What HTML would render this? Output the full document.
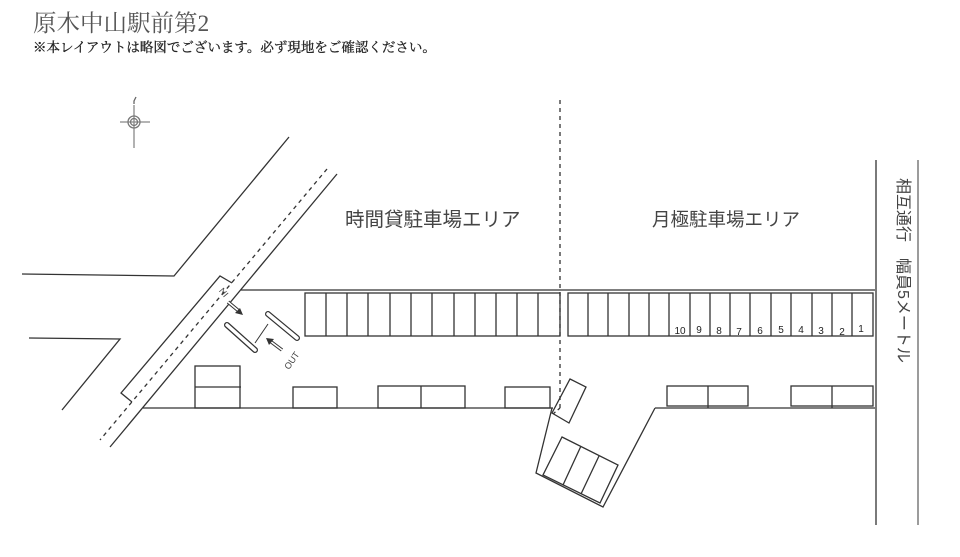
<!DOCTYPE html>
<html><head><meta charset="utf-8"><style>
html,body{margin:0;padding:0;background:#fff;width:960px;height:557px;overflow:hidden}
svg{display:block}
.j{font-family:"Liberation Sans","Noto Sans CJK JP",sans-serif;fill:#444}
.s{font-family:"Liberation Serif","Noto Serif CJK SC",serif;fill:#555}
</style></head><body>
<svg width="960" height="557" viewBox="0 0 960 557" xmlns="http://www.w3.org/2000/svg">
<g stroke="#333" stroke-width="1.3" fill="none">
<line x1="134" y1="105" x2="134" y2="148" stroke="#888"/>
<line x1="120" y1="122" x2="150" y2="122" stroke="#888"/>
<circle cx="134" cy="122" r="6" stroke="#777"/>
<circle cx="134" cy="122" r="3.5" stroke="#777"/>
<path d="M136 97 L134 101 L134 104" stroke="#666"/>
<polyline points="22,274 174,276 289,137"/>
<polyline points="29,338 120,339 62,410"/>
<line x1="337" y1="174" x2="110" y2="447"/>
<line x1="327" y1="169" x2="100" y2="440" stroke-dasharray="4,4"/>
<polyline points="232,283 220,276 121,393 132,402"/>
<line x1="241" y1="290" x2="875" y2="290"/>
<line x1="143" y1="408" x2="553" y2="408"/>
<line x1="655" y1="408" x2="875" y2="408"/>
<polyline points="552,408 536,473 603,507 655,408"/>
<line x1="560" y1="100" x2="560" y2="408" stroke-dasharray="4,4"/>
<line x1="560" y1="408" x2="553" y2="414" stroke-dasharray="3,3"/>
<line x1="876" y1="160" x2="876" y2="525"/>
<line x1="918" y1="160" x2="918" y2="525" stroke="#666"/>
<rect x="305" y="293" width="255" height="43"/>
<path d="M326 293v43M347 293v43M368 293v43M390 293v43M411 293v43M432 293v43M454 293v43M475 293v43M496 293v43M517 293v43M538 293v43"/>
<rect x="568" y="293" width="305" height="43"/>
<path d="M588 293v43M608 293v43M629 293v43M649 293v43M669 293v43M690 293v43M710 293v43M730 293v43M750 293v43M771 293v43M791 293v43M812 293v43M832 293v43M852 293v43"/>
<rect x="195" y="366" width="45" height="42"/><line x1="195" y1="387" x2="241" y2="387"/>
<rect x="293" y="387" width="44" height="21"/>
<rect x="378" y="386" width="87" height="22"/><line x1="421" y1="386" x2="421" y2="408"/>
<rect x="505" y="387" width="45" height="21"/>
<rect x="667" y="386" width="81" height="20"/><line x1="708" y1="386" x2="708" y2="408"/>
<rect x="791" y="386" width="82" height="20"/><line x1="832" y1="386" x2="832" y2="408"/>
<polygon points="570,379 586,387 569,423 552,413"/>
<polygon points="562,437 618,465 600,503 543,475"/>
<line x1="581" y1="446" x2="563" y2="485"/>
<line x1="599" y1="456" x2="581" y2="494"/>
<line x1="227" y1="325" x2="255" y2="350" stroke-width="6" stroke-linecap="round"/>
<line x1="227" y1="325" x2="255" y2="350" stroke-width="3.5" stroke="#fff" stroke-linecap="round"/>
<line x1="268" y1="314" x2="297" y2="338" stroke-width="6" stroke-linecap="round"/>
<line x1="268" y1="314" x2="297" y2="338" stroke-width="3.5" stroke="#fff" stroke-linecap="round"/>
<line x1="255" y1="343" x2="268" y2="324" stroke-width="1"/>
<line x1="228" y1="302" x2="240" y2="312" stroke-width="3.5"/>
<line x1="228" y1="302" x2="240" y2="312" stroke-width="1.5" stroke="#fff"/>
<polygon points="243,315 235,313 240,308" fill="#333" stroke="none"/>
<line x1="282" y1="350" x2="270" y2="341" stroke-width="3.5"/>
<line x1="282" y1="350" x2="270" y2="341" stroke-width="1.5" stroke="#fff"/>
<polygon points="266,338 274,339 269,345" fill="#333" stroke="none"/>
</g>
<text x="223" y="297" font-size="9" class="j" transform="rotate(-130 223 293)" text-anchor="middle">IN</text>
<text x="291" y="364" font-size="9" class="j" transform="rotate(-55 291 360)" text-anchor="middle">OUT</text>
<g font-size="10" class="j" style="fill:#222" text-anchor="middle">
<text x="680" y="334">10</text><text x="699" y="333">9</text><text x="719" y="334">8</text><text x="739" y="335">7</text><text x="760" y="334">6</text><text x="781" y="333">5</text><text x="801" y="333">4</text><text x="821" y="334">3</text><text x="842" y="335">2</text><text x="861" y="332">1</text>
</g>
<text x="345" y="226" font-size="19.5" class="j">時間貸駐車場エリア</text>
<text x="652" y="226" font-size="18.5" class="j">月極駐車場エリア</text>
<text x="898" y="178" font-size="16" class="j" transform="rotate(90 898 178)">相互通行　幅員5メートル</text>
<text x="33" y="31" font-size="23.5" class="s">原木中山駅前第2</text>
<text x="33" y="52" font-size="13.5" class="s" style="fill:#222;stroke:#222;stroke-width:0.3">※本レイアウトは略図でございます。必ず現地をご確認ください。</text>
</svg>
</body></html>
